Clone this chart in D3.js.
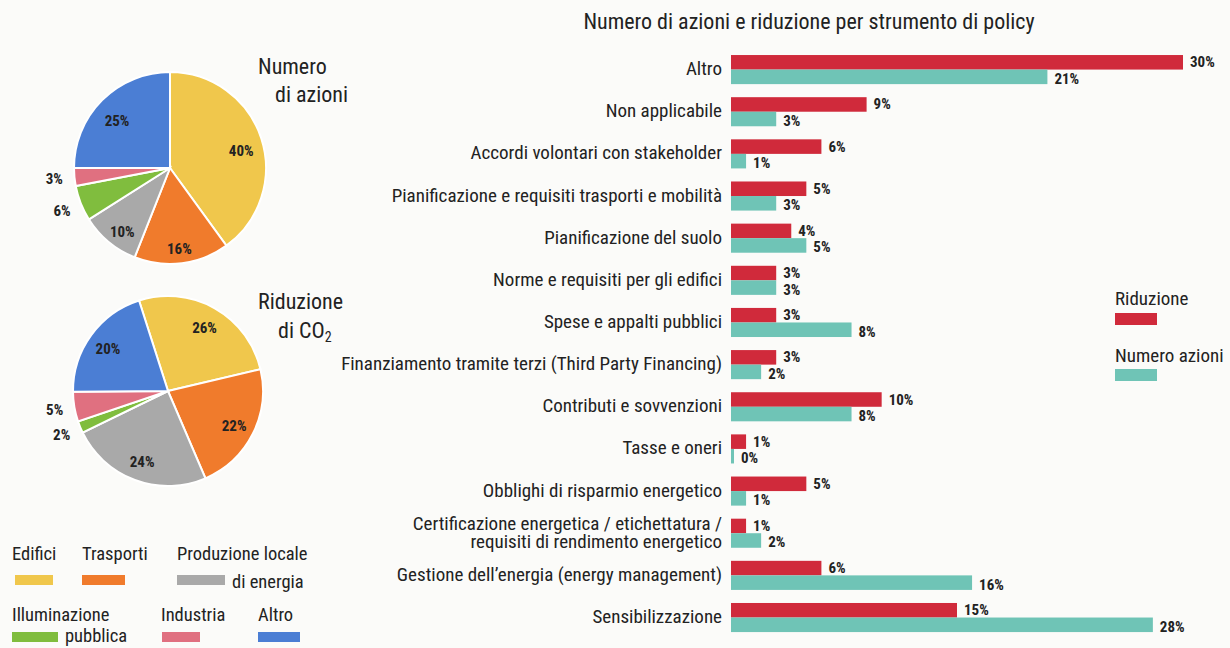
<!doctype html>
<html lang="it">
<head>
<meta charset="utf-8">
<title>Numero di azioni e riduzione</title>
<script src="https://d3js.org/d3.v7.min.js"></script>
<style>
  body { margin: 0; background: #fbfbf9; }
  svg { display: block; }
  text { font-family: "Liberation Sans Narrow", "Roboto Condensed", "DejaVu Sans Condensed", sans-serif; fill: #222; }
  .val { font-weight: bold; font-size: 15px; }
  .cat { font-size: 19px; }
</style>
</head>
<body>
<div id="chart"></div>
<script>
// pie data (sectors)
var sectors = ["Edifici", "Trasporti", "Produzione locale di energia", "Illuminazione pubblica", "Industria", "Altro"];
var sectorColors = ["#f0c74c", "#f07b2c", "#a9a9a9", "#80bd3e", "#e07080", "#4b7ed4"];
var numeroAzioniPie = [40, 16, 10, 6, 3, 25];
var riduzionePie = [26, 22, 24, 2, 5, 20];

// bar data (policy instruments)
var categories = [
  "Altro",
  "Non applicabile",
  "Accordi volontari con stakeholder",
  "Pianificazione e requisiti trasporti e mobilità",
  "Pianificazione del suolo",
  "Norme e requisiti per gli edifici",
  "Spese e appalti pubblici",
  "Finanziamento tramite terzi (Third Party Financing)",
  "Contributi e sovvenzioni",
  "Tasse e oneri",
  "Obblighi di risparmio energetico",
  "Certificazione energetica / etichettatura /|requisiti di rendimento energetico",
  "Gestione dell’energia (energy management)",
  "Sensibilizzazione"
];
var riduzione = [30, 9, 6, 5, 4, 3, 3, 3, 10, 1, 5, 1, 6, 15];
var numeroAzioni = [21, 3, 1, 3, 5, 3, 8, 2, 8, 0, 1, 2, 16, 28];
var seriesNames = ["Riduzione", "Numero azioni"];
var seriesColors = ["#d02a3b", "#6fc4b6"];

var W = 1230, H = 648;
var svg = d3.select("#chart").append("svg").attr("width", W).attr("height", H);

// ---------- pies ----------
var color = d3.scaleOrdinal().domain(sectors).range(sectorColors);

function drawPie(values, cx, cy, r, start, labelNudge) {
  var pie = d3.pie().sort(null).startAngle(start).endAngle(start + 2 * Math.PI);
  var arcs = pie(values);
  var arc = d3.arc().innerRadius(0).outerRadius(r);
  var inLab = d3.arc().innerRadius(r * 0.78).outerRadius(r * 0.78);
  var outLab = d3.arc().innerRadius(r * 1.21).outerRadius(r * 1.21);
  var g = svg.append("g").attr("transform", "translate(" + cx + "," + cy + ")");
  g.selectAll("path").data(arcs).enter().append("path")
    .attr("d", arc)
    .attr("fill", function(d, i) { return color(sectors[i]); })
    .attr("stroke", "#fff").attr("stroke-width", 2);
  g.selectAll("text").data(arcs).enter().append("text")
    .attr("class", "val")
    .attr("text-anchor", "middle")
    .attr("dy", "0.35em")
    .attr("transform", function(d) {
      var small = d.data < 7;
      var c = (small ? outLab : inLab).centroid(d);
      if (!small) c[1] += labelNudge;
      return "translate(" + c + ")";
    })
    .text(function(d) { return d.data + "%"; });
}

drawPie(numeroAzioniPie, 170, 168, 96, 0, 6);
drawPie(riduzionePie, 168, 391, 95, -0.31, 1);

// pie titles
var t1 = svg.append("text").attr("font-size", 22);
t1.append("tspan").attr("x", 258).attr("y", 74).text("Numero");
t1.append("tspan").attr("x", 275).attr("y", 102).text("di azioni");
var t2 = svg.append("text").attr("font-size", 22);
t2.append("tspan").attr("x", 258).attr("y", 309).text("Riduzione");
var t3 = svg.append("text").attr("font-size", 22).attr("x", 278).attr("y", 338);
t3.append("tspan").text("di CO");
t3.append("tspan").attr("font-size", 14).attr("dy", 4).text("2");

// sector legend
var legendItems = [
  {lines: ["Edifici"], x: 12, y: 560, sw: [15, 575, 38]},
  {lines: ["Trasporti"], x: 82, y: 560, sw: [82, 575, 43]},
  {lines: ["Produzione locale", "di energia"], x: 177, y: 560, sw: [177, 575, 48], x2: 232, y2: 588},
  {lines: ["Illuminazione", "pubblica"], x: 12, y: 621, sw: [12, 632, 46], x2: 65, y2: 642},
  {lines: ["Industria"], x: 161, y: 621, sw: [162, 632, 38]},
  {lines: ["Altro"], x: 258, y: 621, sw: [258, 632, 42]}
];
legendItems.forEach(function(d, i) {
  svg.append("rect").attr("x", d.sw[0]).attr("y", d.sw[1]).attr("width", d.sw[2]).attr("height", 10)
    .attr("fill", color(sectors[i]));
  svg.append("text").attr("font-size", 18.5).attr("x", d.x).attr("y", d.y).text(d.lines[0]);
  if (d.lines[1]) {
    svg.append("text").attr("font-size", 18.5).attr("x", d.x2).attr("y", d.y2).text(d.lines[1]);
  }
});

// ---------- bars ----------
var x = d3.scaleLinear().domain([0, 30]).range([731, 1183]);
var y = d3.scaleBand().domain(categories).range([48.5, 638.6]).paddingInner(0.31).paddingOuter(0.155);
var ys = d3.scaleBand().domain(seriesNames).range([0, y.bandwidth()]);

svg.append("text").attr("font-size", 22).attr("text-anchor", "middle")
  .attr("x", 809).attr("y", 29)
  .text("Numero di azioni e riduzione per strumento di policy");

var rows = categories.map(function(c, i) {
  return {cat: c, vals: [riduzione[i], numeroAzioni[i]]};
});

var grp = svg.selectAll("g.row").data(rows).enter().append("g")
  .attr("class", "row")
  .attr("transform", function(d) { return "translate(0," + y(d.cat) + ")"; });

grp.each(function(d) {
  var g = d3.select(this);
  var lines = d.cat.split("|");
  var lab = g.append("text").attr("class", "cat").attr("text-anchor", "end").attr("x", 722);
  lines.forEach(function(l, k) {
    lab.append("tspan").attr("x", 722)
      .attr("y", y.bandwidth() / 2 + 5.5 + (k - (lines.length - 1) / 2) * 18)
      .text(l);
  });
  d.vals.forEach(function(v, k) {
    var s = seriesNames[k];
    g.append("rect")
      .attr("x", x(0)).attr("y", ys(s))
      .attr("width", Math.max(x(v) - x(0), 3)).attr("height", ys.bandwidth())
      .attr("fill", seriesColors[k]);
    g.append("text").attr("class", "val")
      .attr("x", x(Math.max(v, 0.2)) + 7)
      .attr("y", ys(s) + ys.bandwidth() / 2 + 5 + k * 2)
      .text(v + "%");
  });
});

// series legend
seriesNames.forEach(function(s, k) {
  svg.append("text").attr("font-size", 19).attr("x", 1115).attr("y", 305 + k * 57).text(s);
  svg.append("rect").attr("x", 1115).attr("y", 313 + k * 56).attr("width", 42).attr("height", 12)
    .attr("fill", seriesColors[k]);
});
</script>
</body>
</html>
